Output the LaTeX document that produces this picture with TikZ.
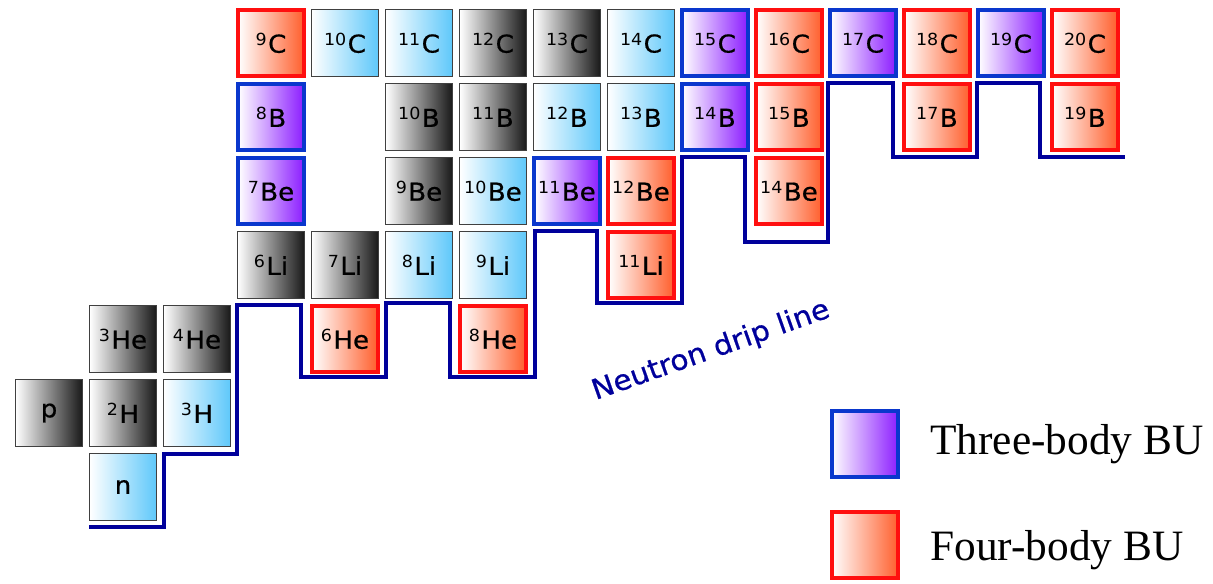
\documentclass[tikz,border=0pt]{standalone}
\usepackage{fontspec}
\setmainfont{Liberation Serif}
\newfontfamily\boxfont{DejaVu Sans}[FakeBold=0.6,FakeStretch=1.06]
\newfontfamily\supfont{DejaVu Sans}[FakeStretch=1.05]
\definecolor{grayend}{RGB}{25,25,25}
\definecolor{blueend}{RGB}{95,200,250}
\definecolor{vioend}{RGB}{140,30,255}
\definecolor{orgend}{RGB}{255,95,45}
\definecolor{threeborder}{RGB}{10,55,205}
\definecolor{fourborder}{RGB}{255,15,15}
\definecolor{dripblue}{RGB}{0,0,155}
\newcommand\iso[2]{\raisebox{0.3em}{\supfont\fontsize{12.5}{12.5}\selectfont #1}\kern1pt#2}
\tikzset{
  nuc/.style={rectangle, inner sep=0pt, font=\boxfont\fontsize{18.5}{18.5}\selectfont},
  stable/.style={nuc, minimum size=50pt, draw=black!75, line width=1.1pt, left color=white, right color=grayend},
  unstable/.style={nuc, minimum size=50pt, draw=black!75, line width=1.1pt, left color=white, right color=blueend},
  threebody/.style={nuc, minimum size=49pt, draw=threeborder, line width=3pt, left color=white, right color=vioend},
  fourbody/.style={nuc, minimum size=49pt, draw=fourborder, line width=3pt, left color=white, right color=orgend},
  drip/.style={draw=dripblue, line width=3pt, line join=miter},
  legendtext/.style={anchor=base west, font=\fontsize{32.5}{36}\selectfont, inner sep=0pt}
}
\begin{document}
\begin{tikzpicture}[x=0.75pt,y=-0.75pt]
\useasboundingbox (0,0) rectangle (1213,584);
% drip line
\draw[drip] (89,527) -- (164,527) -- (164,454) -- (237,454) -- (237,305) -- (301,305) -- (301,377) -- (386,377) -- (386,303) -- (450,303) -- (450,377) -- (535,377) -- (535,231) -- (597,231) -- (597,303) -- (682,303) -- (682,157) -- (745,157) -- (745,242) -- (828,242) -- (828,83) -- (893,83) -- (893,157) -- (977,157) -- (977,83) -- (1040,83) -- (1040,157) -- (1125,157);
% Z=0,1,2
\node[stable] (p) at (49,413) {p};
\node[unstable] (n) at (123,487) {n};
\node[stable] (H2) at (123,413) {\iso{2}{H}};
\node[unstable] (H3) at (197,413) {\iso{3}{H}};
\node[stable] (He3) at (123,339) {\iso{3}{He}};
\node[stable] (He4) at (197,339) {\iso{4}{He}};
\node[fourbody] (He6) at (345,339) {\iso{6}{He}};
\node[fourbody] (He8) at (493,339) {\iso{8}{He}};
% Li
\node[stable] (Li6) at (271,265) {\iso{6}{Li}};
\node[stable] (Li7) at (345,265) {\iso{7}{Li}};
\node[unstable] (Li8) at (419,265) {\iso{8}{Li}};
\node[unstable] (Li9) at (493,265) {\iso{9}{Li}};
\node[fourbody] (Li11) at (641,265) {\iso{11}{Li}};
% Be
\node[threebody] (Be7) at (271,191) {\iso{7}{Be}};
\node[stable] (Be9) at (419,191) {\iso{9}{Be}};
\node[unstable] (Be10) at (493,191) {\iso{10}{Be}};
\node[threebody] (Be11) at (567,191) {\iso{11}{Be}};
\node[fourbody] (Be12) at (641,191) {\iso{12}{Be}};
\node[fourbody] (Be14) at (789,191) {\iso{14}{Be}};
% B
\node[threebody] (B8) at (271,117) {\iso{8}{B}};
\node[stable] (B10) at (419,117) {\iso{10}{B}};
\node[stable] (B11) at (493,117) {\iso{11}{B}};
\node[unstable] (B12) at (567,117) {\iso{12}{B}};
\node[unstable] (B13) at (641,117) {\iso{13}{B}};
\node[threebody] (B14) at (715,117) {\iso{14}{B}};
\node[fourbody] (B15) at (789,117) {\iso{15}{B}};
\node[fourbody] (B17) at (937,117) {\iso{17}{B}};
\node[fourbody] (B19) at (1085,117) {\iso{19}{B}};
% C
\node[fourbody] (C9) at (271,43) {\iso{9}{C}};
\node[unstable] (C10) at (345,43) {\iso{10}{C}};
\node[unstable] (C11) at (419,43) {\iso{11}{C}};
\node[stable] (C12) at (493,43) {\iso{12}{C}};
\node[stable] (C13) at (567,43) {\iso{13}{C}};
\node[unstable] (C14) at (641,43) {\iso{14}{C}};
\node[threebody] (C15) at (715,43) {\iso{15}{C}};
\node[fourbody] (C16) at (789,43) {\iso{16}{C}};
\node[threebody] (C17) at (863,43) {\iso{17}{C}};
\node[fourbody] (C18) at (937,43) {\iso{18}{C}};
\node[threebody] (C19) at (1011,43) {\iso{19}{C}};
\node[fourbody] (C20) at (1085,43) {\iso{20}{C}};
% drip line label
\node[rotate=19.5, text=dripblue, font=\boxfont\fontsize{21}{21}\selectfont] (driplabel) at (711,351) {Neutron drip line};
% legend
\node[threebody, minimum size=50pt] (leg3) at (865,444) {};
\node[fourbody, minimum size=50pt] (leg4) at (865,545) {};
\node[legendtext] (leg3t) at (930,454) {Three-body BU};
\node[legendtext] (leg4t) at (930,560) {Four-body BU};
\end{tikzpicture}
\end{document}
